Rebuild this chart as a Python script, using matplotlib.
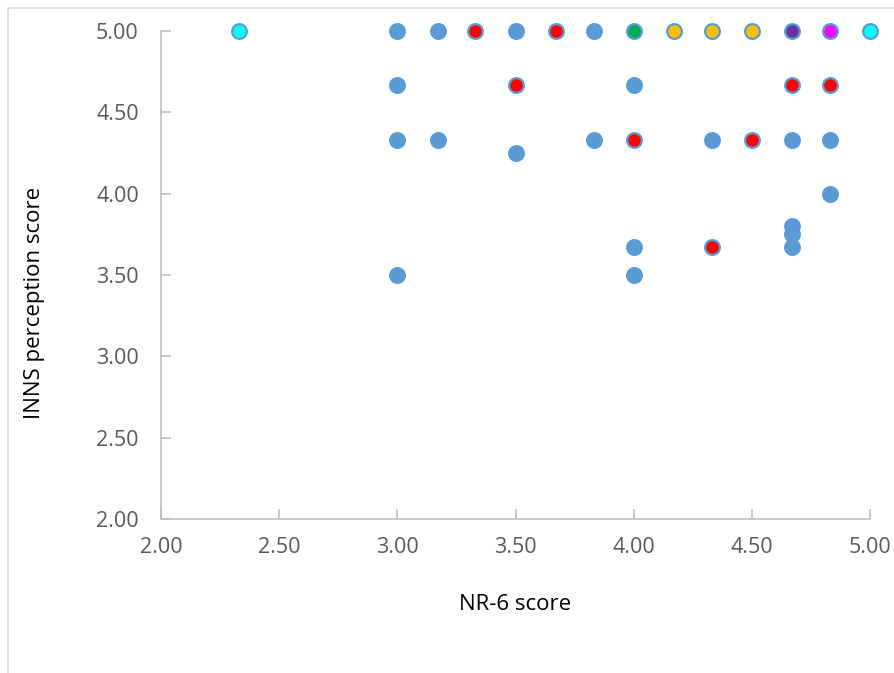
import matplotlib.pyplot as plt
from matplotlib.patches import Rectangle

# NR-6 score (x) and INNS perception score (y), grouped by marker fill colour
blue_x = [3.00, 3.17, 3.50, 3.83, 3.00, 4.00, 3.00, 3.17, 3.83, 4.33, 4.67, 4.83,
          3.50, 4.83, 4.67, 4.67, 4.00, 4.67, 3.00, 4.00]
blue_y = [5.00, 5.00, 5.00, 5.00, 4.67, 4.67, 4.33, 4.33, 4.33, 4.33, 4.33, 4.33,
          4.25, 4.00, 3.80, 3.75, 3.67, 3.67, 3.50, 3.50]
red_x = [3.33, 3.67, 3.50, 4.67, 4.83, 4.00, 4.50, 4.33]
red_y = [5.00, 5.00, 4.67, 4.67, 4.67, 4.33, 4.33, 3.67]
green_x = [4.00]
green_y = [5.00]
orange_x = [4.17, 4.33, 4.50]
orange_y = [5.00, 5.00, 5.00]
purple_x = [4.67]
purple_y = [5.00]
magenta_x = [4.83]
magenta_y = [5.00]
cyan_x = [2.33, 5.00]
cyan_y = [5.00, 5.00]

x_ticks = [2.0, 2.5, 3.0, 3.5, 4.0, 4.5, 5.0]
y_ticks = [2.0, 2.5, 3.0, 3.5, 4.0, 4.5, 5.0]

plt.rcParams['font.family'] = ['Open Sans', 'DejaVu Sans']

fig = plt.figure(figsize=(8.94, 6.73), dpi=100)
ax = fig.add_axes([0.1801, 0.2288, 0.7931, 0.7251])

edge = '#5B9BD5'
groups = [
    (blue_x, blue_y, '#5B9BD5'),
    (red_x, red_y, '#FF0000'),
    (green_x, green_y, '#00B050'),
    (orange_x, orange_y, '#FFC000'),
    (purple_x, purple_y, '#7030A0'),
    (magenta_x, magenta_y, '#FF00FF'),
    (cyan_x, cyan_y, '#00FFFF'),
]
for gx, gy, col in groups:
    ax.scatter(gx, gy, s=112, c=col, edgecolors=edge, linewidths=1.6,
               clip_on=False, zorder=3)

ax.set_xlim(2.0, 5.0)
ax.set_ylim(2.0, 5.0)
ax.set_xticks(x_ticks)
ax.set_yticks(y_ticks)
ax.set_xticklabels([f"{v:.2f}" for v in x_ticks])
ax.set_yticklabels([f"{v:.2f}" for v in y_ticks])

for side in ['top', 'right']:
    ax.spines[side].set_visible(False)
for side in ['left', 'bottom']:
    ax.spines[side].set_color('#BFBFBF')
    ax.spines[side].set_linewidth(1.2)

ax.tick_params(axis='both', direction='in', length=7, width=1.2, color='#BFBFBF',
               labelsize=15.5, labelcolor='#595959')
ax.tick_params(axis='x', pad=13)
ax.tick_params(axis='y', pad=16)

ax.set_xlabel('NR-6 score', fontsize=16, color='#000000', va='center')
ax.set_ylabel('INNS perception score', fontsize=16, color='#000000', va='center')
ax.xaxis.set_label_coords(0.5, -0.176)
ax.yaxis.set_label_coords(-0.178, 0.443)

# chart area border
fig.patches.append(Rectangle((8 / 894, -0.1), 1.0, 1 - 8 / 673 + 0.1,
                             transform=fig.transFigure, fill=False,
                             edgecolor='#D9D9D9', linewidth=1.2))

fig.savefig('out.png', dpi=100)
